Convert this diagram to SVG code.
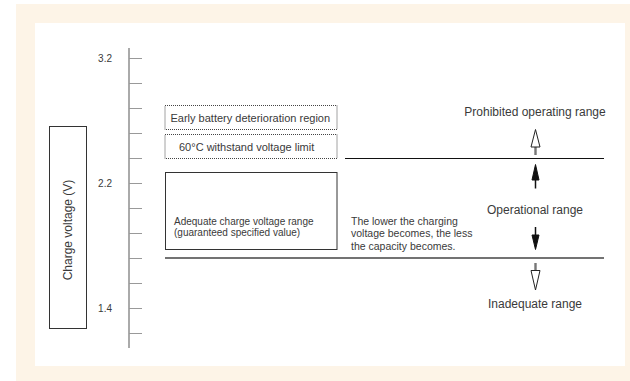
<svg xmlns="http://www.w3.org/2000/svg" width="630" height="381" viewBox="0 0 630 381">
<style>
text{font-family:"Liberation Sans",Arial,sans-serif;fill:#3a3a3a}
.ax{font-size:10px;text-anchor:end}
.t11{font-size:11px}
.t10{font-size:10px}
.t105{font-size:10.5px}
.t12{font-size:12px}
.dot{fill:#fff;stroke:#444;stroke-width:1;stroke-dasharray:1 1}
.box{fill:#fff;stroke:#333;stroke-width:1}
.tick{stroke:#999;stroke-width:1}
.hollow{fill:#fff;stroke:#222;stroke-width:1}
.solid{fill:#111;stroke:#111;stroke-width:1}
</style>
<rect x="16" y="4" width="614" height="377" fill="#fdf4e7"/>
<rect x="35" y="23" width="590" height="343" fill="#fff"/>

<g id="y-axis">
<line x1="129" y1="48" x2="129" y2="348" stroke="#aaa" stroke-width="2"/>
<g class="tick">
<line x1="129" y1="58.5" x2="142" y2="58.5"/>
<line x1="129" y1="83.5" x2="142" y2="83.5"/>
<line x1="129" y1="108.5" x2="142" y2="108.5"/>
<line x1="129" y1="133.5" x2="142" y2="133.5"/>
<line x1="129" y1="158.5" x2="142" y2="158.5"/>
<line x1="129" y1="183.5" x2="142" y2="183.5"/>
<line x1="129" y1="208.5" x2="142" y2="208.5"/>
<line x1="129" y1="233.5" x2="142" y2="233.5"/>
<line x1="129" y1="258.5" x2="142" y2="258.5"/>
<line x1="129" y1="283.5" x2="142" y2="283.5"/>
<line x1="129" y1="308.5" x2="142" y2="308.5"/>
<line x1="129" y1="333.5" x2="142" y2="333.5"/>
</g>
<text class="ax" x="112" y="62">3.2</text>
<text class="ax" x="112" y="187">2.2</text>
<text class="ax" x="112" y="312">1.4</text>
</g>

<g id="axis-title">
<rect x="49.5" y="126.5" width="37" height="202" class="box"/>
<text class="t12" transform="translate(71.5,230) rotate(-90)" text-anchor="middle">Charge voltage (V)</text>
</g>

<g id="early-deterioration">
<rect x="165" y="105.5" width="172" height="24" class="dot"/>
<text class="t11" x="170.5" y="122">Early battery deterioration region</text>
</g>

<g id="withstand-limit">
<rect x="165" y="134.5" width="172" height="24" class="dot"/>
<text class="t11" x="179" y="151">60°C withstand voltage limit</text>
</g>

<g id="adequate-range">
<rect x="165.5" y="172.5" width="171.5" height="77" class="box"/>
<text class="t10" x="174" y="225">Adequate charge voltage range</text>
<text class="t10" x="174" y="236">(guaranteed specified value)</text>
</g>

<g id="note">
<text class="t105" x="351" y="224.5">The lower the charging</text>
<text class="t105" x="351" y="237">voltage becomes, the less</text>
<text class="t105" x="351" y="249.5">the capacity becomes.</text>
</g>

<g id="prohibited">
<text class="t12" x="535" y="116" text-anchor="middle">Prohibited operating range</text>
</g>
<g id="operational">
<text class="t12" x="535" y="214" text-anchor="middle">Operational range</text>
</g>
<g id="inadequate">
<text class="t12" x="535" y="308" text-anchor="middle">Inadequate range</text>
</g>

<g id="connectors">
<line x1="345" y1="158.5" x2="604" y2="158.5" stroke="#111" stroke-width="1"/>
<line x1="165" y1="258" x2="604" y2="258" stroke="#444" stroke-width="1.5"/>
<rect x="534.3" y="146.5" width="2.4" height="8.5" fill="#777"/>
<polygon class="hollow" points="535.5,129.5 531,147 540,147"/>
<line x1="535.5" y1="178" x2="535.5" y2="188.5" stroke="#111" stroke-width="1.5"/>
<polygon class="solid" points="535.5,164.5 532,180 539,180"/>
<line x1="535.5" y1="227" x2="535.5" y2="237" stroke="#111" stroke-width="1.5"/>
<polygon class="solid" points="535.5,249.5 532,235 539,235"/>
<rect x="534.3" y="263" width="2.4" height="8" fill="#777"/>
<polygon class="hollow" points="535.5,290 531,270.5 540,270.5"/>
</g>
</svg>
